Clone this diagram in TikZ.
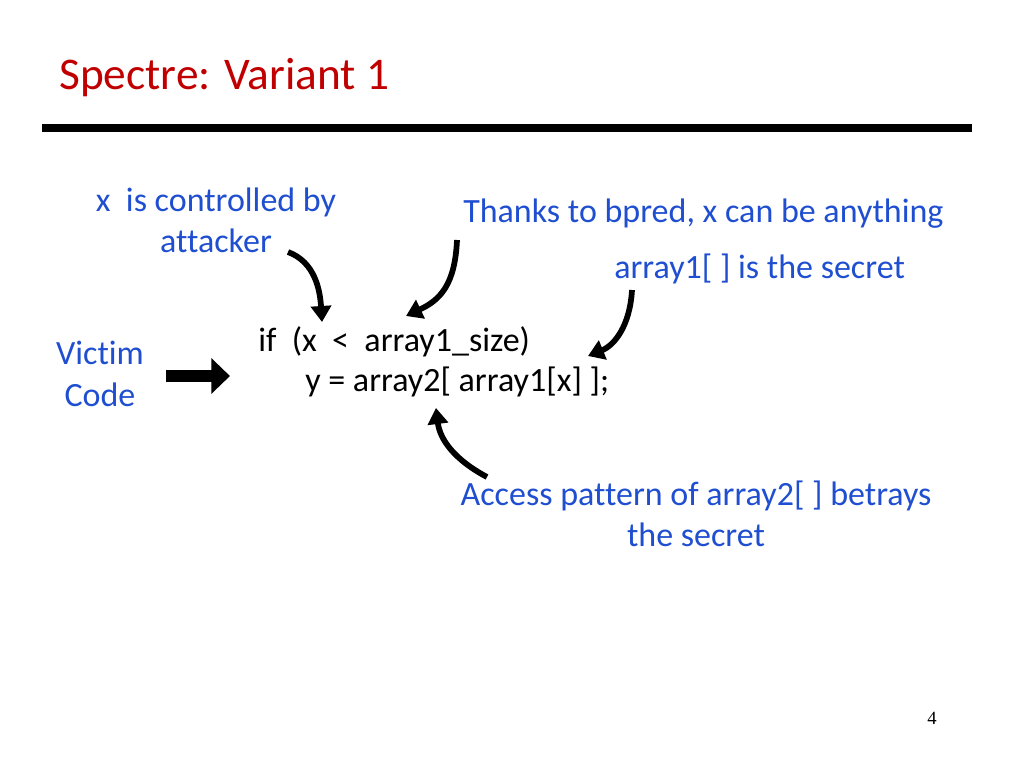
\documentclass[tikz,border=0pt]{standalone}
\usepackage{fontspec}
\setmainfont[Ligatures=NoCommon]{Carlito}
\newfontfamily\serifnum{Liberation Serif}
\usetikzlibrary{arrows.meta}
\definecolor{tred}{HTML}{C00000}
\definecolor{tblue}{HTML}{1F4FD0}
\begin{document}
\begin{tikzpicture}[x=0.75pt,y=-0.75pt,
  lbl/.style={text=tblue,font=\fontsize{25.5}{31}\selectfont,align=center,inner sep=0},
  code/.style={font=\fontsize{25.5}{31}\selectfont,inner sep=0,anchor=west},
  arr/.style={line width=4.3pt,-{Triangle[length=12pt,width=15pt]}}]
\useasboundingbox (0,0) rectangle (1024,768);
\node[anchor=west,text=tred,font=\fontsize{34}{40}\selectfont,inner sep=0] (title) at (59,78) {Spectre: Variant 1};
\draw[line width=6pt] (42,128) -- (972,128);
\node[lbl] (l1) at (216,220) {x\ \ is controlled by\\attacker};
\node[lbl,anchor=west] (l2) at (463,214) {Thanks to bpred, x can be anything};
\node[lbl,anchor=west] (l3) at (614,269) {array1[ ] is the secret};
\node[lbl] (vc) at (100,374) {Victim\\Code};
\node[lbl] (l4) at (696,514) {Access pattern of array2[ ] betrays\\the secret};
\node[code] (c1) at (258,342) {if\ \ (x\ \ <\ \ array1\_size)};
\node[code] (c2) at (305,382) {y = array2[ array1[x] ];};
\node[font=\serifnum\fontsize{14}{16}\selectfont,inner sep=0] (pn) at (932,718) {4};
\coordinate (a1s) at (288,252); \coordinate (a1e) at (322,322);
\coordinate (a2s) at (457,240); \coordinate (a2e) at (406,316);
\coordinate (a3s) at (632,290); \coordinate (a3e) at (588,356);
\coordinate (a4s) at (487,477); \coordinate (a4e) at (436,408);
\coordinate (a5s) at (166,376); \coordinate (a5e) at (230,376);
\draw[arr] (a1s) .. controls (315,262) and (320,290) .. (a1e);
\draw[arr] (a2s) .. controls (455,285) and (440,300) .. (a2e);
\draw[arr] (a3s) .. controls (630,325) and (615,345) .. (a3e);
\draw[arr] (a4s) .. controls (455,460) and (440,440) .. (a4e);
\draw[line width=9pt,-{Triangle[length=14pt,width=26pt]}] (a5s) -- (a5e);
\end{tikzpicture}
\end{document}
